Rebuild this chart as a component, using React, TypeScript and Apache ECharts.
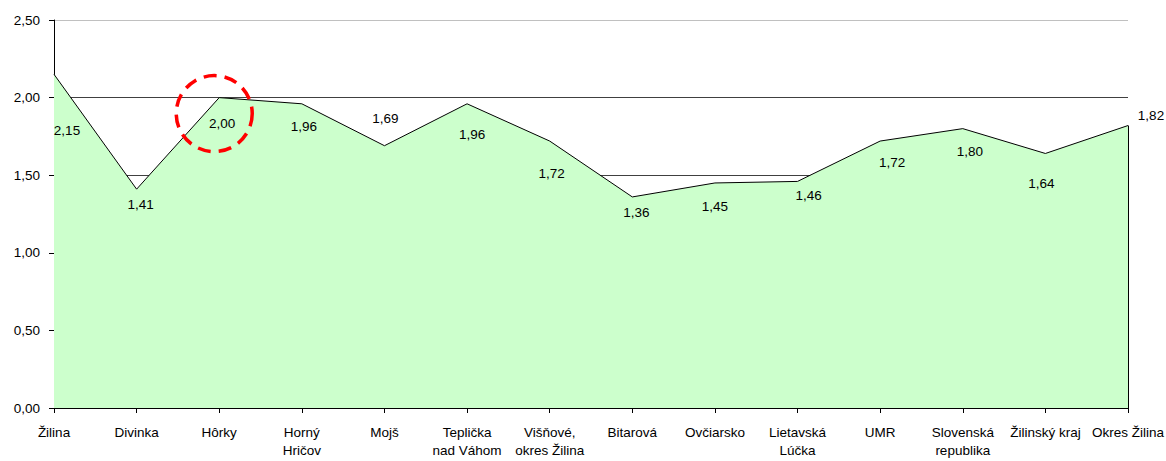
import React, { useEffect, useRef } from "react";
import * as echarts from "echarts";

const categories: string[] = [
  "Žilina",
  "Divinka",
  "Hôrky",
  "Horný\nHričov",
  "Mojš",
  "Teplička\nnad Váhom",
  "Višňové,\nokres Žilina",
  "Bitarová",
  "Ovčiarsko",
  "Lietavská\nLúčka",
  "UMR",
  "Slovenská\nrepublika",
  "Žilinský kraj",
  "Okres Žilina",
];

const values: number[] = [2.15, 1.41, 2.0, 1.96, 1.69, 1.96, 1.72, 1.36, 1.45, 1.46, 1.72, 1.8, 1.64, 1.82];

const yTicks: number[] = [0, 0.5, 1, 1.5, 2, 2.5];

// label placement (layout only), relative to each point
const labelOffsets: [number, number][] = [
  [13, 56],
  [4, 15],
  [3, 26],
  [2, 23],
  [1, -27],
  [5, 31],
  [2, 32],
  [4, 16],
  [0, 24],
  [11, 14],
  [12, 21],
  [7, 23],
  [-4, 30],
  [23, -10],
];

const highlightIndex = 2;

const fmt = (v: number) => v.toFixed(2).replace(".", ",");
const FONT = "'Liberation Sans', Arial, sans-serif";

export default function App() {
  const ref = useRef<HTMLDivElement>(null);

  useEffect(() => {
    if (!ref.current) return;
    const chart = echarts.init(ref.current, undefined, { renderer: "svg" });
    const last = values.length - 1;
    chart.setOption({
      animation: false,
      backgroundColor: "#ffffff",
      grid: {
        left: 54,
        right: 38,
        top: 20,
        bottom: 53,
        containLabel: false,
        outerBoundsMode: "none",
      },
      xAxis: {
        type: "category",
        data: categories,
        boundaryGap: false,
        axisLine: { show: true, lineStyle: { color: "#000", width: 1 } },
        axisTick: { show: true, length: 5, lineStyle: { color: "#000" } },
        axisLabel: {
          interval: 0,
          color: "#000",
          fontFamily: FONT,
          fontSize: 13.5,
          lineHeight: 18,
          margin: 15,
        },
        splitLine: { show: false },
      },
      yAxis: {
        type: "value",
        min: yTicks[0],
        max: yTicks[yTicks.length - 1],
        interval: 0.5,
        axisLine: { show: true, lineStyle: { color: "#000", width: 1 } },
        axisTick: { show: true, length: 5, lineStyle: { color: "#000" } },
        axisLabel: {
          color: "#000",
          fontFamily: FONT,
          fontSize: 13.5,
          margin: 14,
          padding: [4, 0, 0, 0],
          formatter: (v: number) => fmt(v),
        },
        splitLine: {
          show: true,
          lineStyle: {
            color: ["#404040", "#404040", "#404040", "#404040", "#404040", "#c0c0c0"],
            width: 1,
          },
        },
      },
      series: [
        {
          type: "line",
          data: values.map((v, i) => ({
            value: v,
            label: { offset: labelOffsets[i] },
          })),
          symbol: "circle",
          symbolSize: 1,
          showSymbol: true,
          itemStyle: { color: "rgba(0,0,0,0)" },
          lineStyle: { color: "#000", width: 1 },
          areaStyle: { color: "#ccffcc", opacity: 1 },
          label: {
            show: true,
            position: "inside",
            color: "#000",
            fontFamily: FONT,
            fontSize: 13.5,
            formatter: (p: any) => fmt(p.value),
          },
          emphasis: { disabled: true },
          markLine: {
            silent: true,
            symbol: "none",
            label: { show: false },
            lineStyle: { color: "#000", width: 1, type: "solid" },
            data: [[{ coord: [last, 0] }, { coord: [last, values[last]] }]],
          },
          markPoint: {
            silent: true,
            label: { show: false },
            data: [
              {
                coord: [highlightIndex, values[highlightIndex]],
                symbol: "circle",
                symbolSize: 76,
                symbolOffset: [-5, 16],
                itemStyle: {
                  color: "rgba(0,0,0,0)",
                  borderColor: "#ff0000",
                  borderWidth: 3.5,
                  borderType: [13, 8],
                },
              },
            ],
          },
        },
      ],
    });
    return () => chart.dispose();
  }, []);

  return (
    <div
      ref={ref}
      style={{ position: "fixed", left: 0, top: 0, width: 1166, height: 461 }}
    />
  );
}
